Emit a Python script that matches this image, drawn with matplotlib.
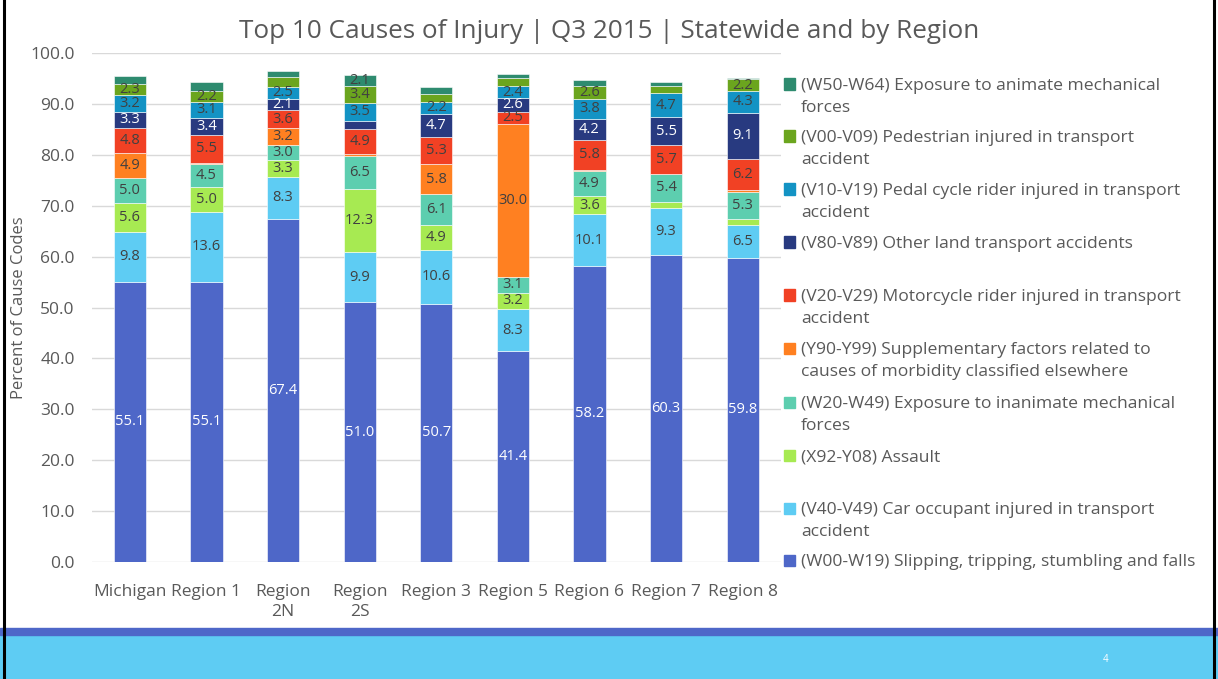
import matplotlib
matplotlib.use("Agg")
import numpy as np
from matplotlib import pyplot as plt
from matplotlib.patches import Rectangle

plt.rcParams['font.family'] = ['Open Sans', 'DejaVu Sans']

regions = ["Michigan", "Region 1", "Region\n2N", "Region\n2S", "Region 3",
           "Region 5", "Region 6", "Region 7", "Region 8"]

# series, bottom to top of the stack
series_names = [
    "(W00-W19) Slipping, tripping, stumbling and falls",
    "(V40-V49) Car occupant injured in transport\naccident",
    "(X92-Y08) Assault",
    "(W20-W49) Exposure to inanimate mechanical\nforces",
    "(Y90-Y99) Supplementary factors related to\ncauses of morbidity classified elsewhere",
    "(V20-V29) Motorcycle rider injured in transport\naccident",
    "(V80-V89) Other land transport accidents",
    "(V10-V19) Pedal cycle rider injured in transport\naccident",
    "(V00-V09) Pedestrian injured in transport\naccident",
    "(W50-W64) Exposure to animate mechanical\nforces",
]

w00 = [55.1, 55.1, 67.4, 51.0, 50.7, 41.4, 58.2, 60.3, 59.8]
v40 = [9.8, 13.6, 8.3, 9.9, 10.6, 8.3, 10.1, 9.3, 6.5]
x92 = [5.6, 5.0, 3.3, 12.3, 4.9, 3.2, 3.6, 1.2, 1.0]
w20 = [5.0, 4.5, 3.0, 6.5, 6.1, 3.1, 4.9, 5.4, 5.3]
y90 = [4.9, 0.2, 3.2, 0.5, 5.8, 30.0, 0.3, 0.0, 0.4]
v20 = [4.8, 5.5, 3.6, 4.9, 5.3, 2.5, 5.8, 5.7, 6.2]
v80 = [3.3, 3.4, 2.1, 1.6, 4.7, 2.6, 4.2, 5.5, 9.1]
v10 = [3.2, 3.1, 2.5, 3.5, 2.2, 2.4, 3.8, 4.7, 4.3]
v00 = [2.3, 2.2, 1.9, 3.4, 1.6, 1.5, 2.6, 1.4, 2.2]
w50 = [1.4, 1.8, 1.1, 2.1, 1.4, 0.9, 1.2, 0.9, 0.3]

values = [w00, v40, x92, w20, y90, v20, v80, v10, v00, w50]

colors = ["#4E67C8", "#5ECCF3", "#A7EA52", "#5DCEAF", "#FF8021",
          "#F14124", "#283A80", "#1393C4", "#6BA51E", "#2E8B6F"]
label_colors = ["white", "#404040", "#404040", "#404040", "#404040",
                "#404040", "white", "#404040", "#404040", "#404040"]

fig = plt.figure(figsize=(12.18, 6.79), dpi=100)

# slide background bands
fig.patches.append(Rectangle((0, 0), 1, 44 / 679, transform=fig.transFigure,
                             color="#5ECCF3", zorder=0))
fig.patches.append(Rectangle((0, 44 / 679), 1, 7.5 / 679, transform=fig.transFigure,
                             color="#4E67C8", zorder=0))
fig.patches.append(Rectangle((4 / 1218, -0.01), 1210 / 1218, 1.02, transform=fig.transFigure,
                             fill=False, edgecolor="black", lw=2.2, zorder=5))
fig.text(1106 / 1218, 1 - 660 / 679, "4", color="white", fontsize=7,
         ha="center", va="center")

ax = fig.add_axes([91.5 / 1218, 117 / 679, 689.5 / 1218, 509 / 679])
X = np.arange(len(regions))
width = 0.42
bottom = np.zeros(len(regions))
for vals, col, lcol in zip(values, colors, label_colors):
    vals = np.array(vals)
    ax.bar(X, vals, width=width, bottom=bottom, color=col, edgecolor="white",
           linewidth=0.4, zorder=3)
    for xi, b, v in zip(X, bottom, vals):
        if v >= 2.0:
            ax.text(xi, b + v / 2, "%.1f" % v, ha="center", va="center",
                    color=lcol, fontsize=10.5, zorder=4)
    bottom = bottom + vals

ax.set_ylim(0, 100)
ax.set_xlim(-0.5, len(regions) - 0.5)
ax.set_yticks(np.arange(0, 101, 10))
ax.set_yticklabels(["%.1f" % t for t in np.arange(0, 101, 10)], color="#595959", fontsize=12.5)
ax.set_xticks(X)
ax.set_xticklabels(regions, color="#595959", fontsize=12.5, linespacing=1.35)
ax.tick_params(axis="x", length=0, pad=16)
ax.tick_params(axis="y", length=0, pad=12)
ax.yaxis.grid(True, color="#D9D9D9", lw=1, zorder=0)
for s in ax.spines.values():
    s.set_visible(False)
ax.set_ylabel("Percent of Cause Codes", color="#595959", fontsize=12)
ax.yaxis.set_label_coords(-0.0935, 0.5)

fig.text(0.5, 1 - 31 / 679, "Top 10 Causes of Injury | Q3 2015 | Statewide and by Region",
         ha="center", va="center", fontsize=18.8, color="#595959")

# legend, top entry first
leg_y = [84, 136, 189, 242, 295, 348, 402, 455, 508, 560]
for name, col, yy in zip(series_names[::-1], colors[::-1], leg_y):
    fig.patches.append(Rectangle((784 / 1218, 1 - (yy + 5.5) / 679), 11 / 1218, 11 / 679,
                                 transform=fig.transFigure, color=col))
    fig.text(801 / 1218, 1 - (yy - 6) / 679, name, ha="left", va="top",
             fontsize=12.6, color="#595959", linespacing=1.48)

fig.savefig("out.png", dpi=100)
